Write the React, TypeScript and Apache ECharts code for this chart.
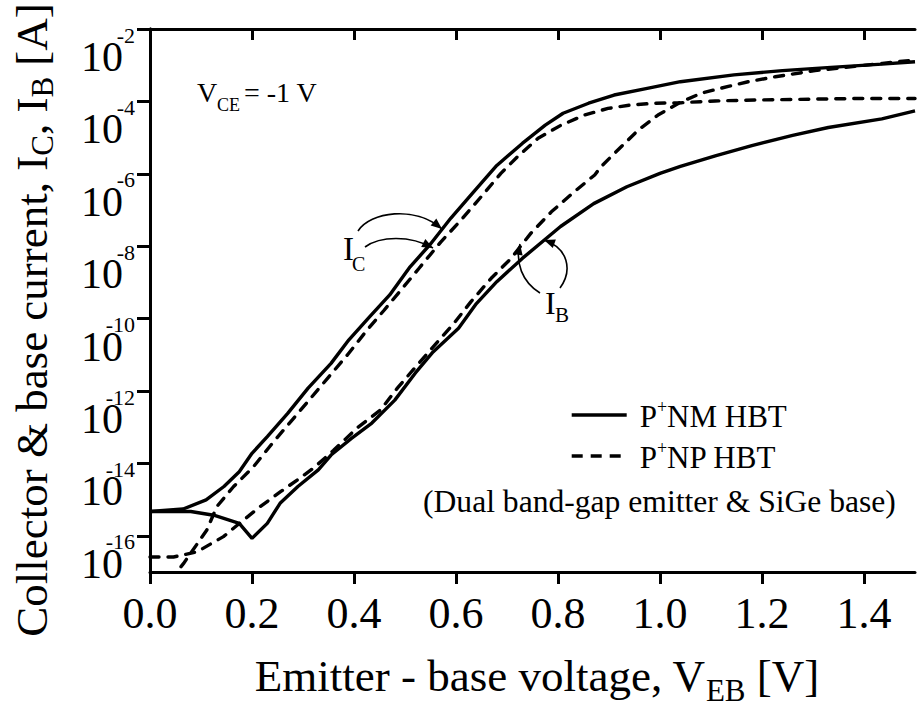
import React, { useEffect, useRef } from 'react';
import * as echarts from 'echarts';

const FONT = '"Liberation Serif", "Times New Roman", serif';

// P+NM HBT collector current (solid)
const icNmV = [0, 0.065, 0.11, 0.145, 0.175, 0.2, 0.23, 0.27, 0.31, 0.355, 0.39, 0.43, 0.47, 0.51, 0.55, 0.59, 0.635, 0.68, 0.73, 0.775, 0.81, 0.86, 0.91, 0.975, 1.04, 1.145, 1.24, 1.335, 1.435, 1.5];
const icNmI = [4.7e-16, 5.5e-16, 9.8e-16, 2.3e-15, 5.9e-15, 1.9e-14, 5.5e-14, 2.4e-13, 1.2e-12, 5.8e-12, 2.6e-11, 1.1e-10, 4.5e-10, 2.7e-9, 1.15e-8, 6.0e-8, 3.2e-7, 1.7e-6, 6.9e-6, 2.2e-5, 4.7e-5, 8.9e-5, 1.5e-4, 2.3e-4, 3.5e-4, 5.4e-4, 7.1e-4, 8.7e-4, 1.07e-3, 1.25e-3];

// P+NM HBT base current (solid)
const ibNmV = [0, 0.08, 0.125, 0.175, 0.2, 0.23, 0.255, 0.29, 0.33, 0.355, 0.395, 0.435, 0.48, 0.52, 0.555, 0.605, 0.64, 0.68, 0.73, 0.805, 0.87, 0.935, 1.0, 1.04, 1.11, 1.18, 1.26, 1.33, 1.435, 1.5];
const ibNmI = [4.7e-16, 4.7e-16, 3.7e-16, 2.2e-16, 8.5e-17, 2.2e-16, 7.9e-16, 2.3e-15, 6.6e-15, 1.7e-14, 4.9e-14, 1.3e-13, 5.6e-13, 3.1e-12, 1.2e-11, 5.4e-11, 2.6e-10, 1.05e-9, 4.6e-9, 3.5e-8, 1.5e-7, 4.4e-7, 1.03e-6, 1.6e-6, 3.2e-6, 6.0e-6, 1.15e-5, 1.9e-5, 3.3e-5, 5.5e-5];

// P+NP HBT collector current (dashed)
const icNpV = [0.04, 0.0525, 0.0655, 0.1115, 0.131, 0.164, 0.203, 0.2425, 0.279, 0.315, 0.351, 0.387, 0.426, 0.459, 0.495, 0.528, 0.57, 0.61, 0.649, 0.688, 0.721, 0.761, 0.806, 0.852, 0.898, 0.944, 0.99, 1.042, 1.108, 1.2, 1.291, 1.383, 1.5];
const icNpI = [5.6e-18, 1.0e-17, 1.7e-17, 1.45e-16, 6.4e-16, 2.3e-15, 8.1e-15, 4.0e-14, 1.6e-13, 6.3e-13, 2.5e-12, 9.9e-12, 4.9e-11, 1.7e-10, 6.9e-10, 2.5e-9, 1.3e-8, 5.3e-8, 2.3e-7, 1.03e-6, 3.0e-6, 9.6e-6, 2.2e-5, 4.2e-5, 6.4e-5, 8.0e-5, 8.9e-5, 9.2e-5, 1.03e-4, 1.1e-4, 1.15e-4, 1.2e-4, 1.2e-4];

// P+NP HBT base current (dashed)
const ibNpV = [0, 0.046, 0.092, 0.144, 0.183, 0.216, 0.256, 0.289, 0.321, 0.36, 0.406, 0.452, 0.485, 0.524, 0.564, 0.596, 0.629, 0.669, 0.708, 0.747, 0.787, 0.832, 0.872, 0.885, 0.911, 0.957, 0.996, 1.042, 1.082, 1.134, 1.173, 1.226, 1.304, 1.436, 1.5];
const ibNpI = [2.6e-17, 2.6e-17, 3.6e-17, 9.5e-17, 2.7e-16, 6.4e-16, 1.65e-15, 3.5e-15, 7.5e-15, 2.3e-14, 9.5e-14, 3.0e-13, 1.2e-12, 5.2e-12, 2.3e-11, 7.4e-11, 2.9e-10, 1.3e-9, 4.6e-9, 2.3e-8, 8.9e-8, 3.2e-7, 9.3e-7, 1.6e-6, 3.7e-6, 1.6e-5, 4.2e-5, 9.8e-5, 1.7e-4, 2.6e-4, 3.5e-4, 4.8e-4, 7.1e-4, 1.12e-3, 1.4e-3];

const xTicks = [0, 0.2, 0.4, 0.6, 0.8, 1.0, 1.2, 1.4];
const yTicks = [1e-16, 1e-14, 1e-12, 1e-10, 1e-8, 1e-6, 1e-4, 1e-2];
const legendNames = ['P+NM HBT', 'P+NP HBT'];
const xTitleParts = ['Emitter - base voltage, V', 'EB', ' [V]'];

const zip = (xs: number[], ys: number[]) => xs.map((x, i) => [x, ys[i]]);

const measure = (text: string, size: number) => {
  const ctx = document.createElement('canvas').getContext('2d');
  if (!ctx) return text.length * size * 0.45;
  ctx.font = `${size}px ${FONT}`;
  return ctx.measureText(text).width;
};

const arrowHead = (tx: number, ty: number, dx: number, dy: number) => {
  const len = Math.hypot(dx, dy);
  const ux = dx / len, uy = dy / len;
  const L = 11, H = 4.5;
  const bx = tx - ux * L, by = ty - uy * L;
  return {
    type: 'polygon',
    silent: true,
    shape: { points: [[tx, ty], [bx - uy * H, by + ux * H], [bx + uy * H, by - ux * H]] },
    style: { fill: '#000' },
  };
};

const curve = (x1: number, y1: number, c1x: number, c1y: number, c2x: number, c2y: number, x2: number, y2: number) => ({
  type: 'bezierCurve',
  silent: true,
  shape: { x1, y1, cpx1: c1x, cpy1: c1y, cpx2: c2x, cpy2: c2y, x2, y2 },
  style: { stroke: '#000', lineWidth: 1.6, fill: null },
});

const txt = (x: number, y: number, text: string, fontSize: number, align = 'left') => ({
  type: 'text',
  silent: true,
  x,
  y,
  style: { text, fontSize, fontFamily: FONT, fill: '#000', align, verticalAlign: 'middle' },
});

export default function App() {
  const ref = useRef<HTMLDivElement>(null);
  useEffect(() => {
    if (!ref.current) return;
    const chart = echarts.init(ref.current, null, { renderer: 'svg' });
    const axisLine = { show: true, lineStyle: { color: '#000', width: 3 } };
    const solid = { color: '#000', width: 3.4, type: 'solid' as const };
    const dashed = { color: '#000', width: 3.4, type: [9, 9] as any, cap: 'round' as const };

    // x-axis title laid out as three pieces (main, subscript, main)
    const mainSize = 45, subSize = 31;
    const w1 = measure(xTitleParts[0], mainSize);
    const w2 = measure(xTitleParts[1], subSize);
    const w3 = measure(xTitleParts[2], mainSize);
    const xl = 537 - (w1 + w2 + w3) / 2;

    const option: any = {
      animation: false,
      backgroundColor: '#fff',
      grid: { left: 150, right: 6, top: 29, bottom: 135, containLabel: false, outerBoundsMode: 'none' },
      xAxis: [
        {
          type: 'value', min: 0, max: 1.5, position: 'bottom',
          axisLine,
          axisTick: { show: true, customValues: xTicks, inside: false, length: 12, lineStyle: { color: '#000', width: 3 } },
          axisLabel: { customValues: xTicks, formatter: (v: number) => Number(v).toFixed(1), margin: 19, fontSize: 44, fontFamily: FONT, color: '#000' },
          splitLine: { show: false },
        },
        {
          type: 'value', min: 0, max: 1.5, position: 'top',
          axisLine,
          axisTick: { show: true, customValues: xTicks, inside: true, length: 11, lineStyle: { color: '#000', width: 3 } },
          axisLabel: { show: false },
          splitLine: { show: false },
        },
      ],
      yAxis: [
        {
          type: 'log', logBase: 10, min: 1e-17, max: 1e-2, position: 'left',
          axisLine,
          axisTick: { show: true, customValues: yTicks, inside: false, length: 13, lineStyle: { color: '#000', width: 3 } },
          axisLabel: {
            customValues: yTicks,
            formatter: (v: number) => `{e|${Math.round(Math.log10(v))}}\n{b|10}`,
            margin: 15,
            padding: [34, 0, 0, 0],
            color: '#000',
            fontFamily: FONT,
            rich: {
              e: { fontSize: 22, lineHeight: 22, fontFamily: FONT, color: '#000' },
              b: { fontSize: 42, lineHeight: 22, fontFamily: FONT, color: '#000', padding: [0, 12, 0, 0] },
            },
          },
          splitLine: { show: false },
        },
        {
          type: 'log', logBase: 10, min: 1e-17, max: 1e-2, position: 'right',
          axisLine,
          axisTick: { show: true, customValues: yTicks, inside: true, length: 11, lineStyle: { color: '#000', width: 3 } },
          axisLabel: { show: false },
          splitLine: { show: false },
        },
      ],
      legend: {
        show: true,
        data: [
          { name: legendNames[0], lineStyle: { width: 3.4, type: 'solid' } },
          { name: legendNames[1], lineStyle: { width: 3.4, type: [11, 8], cap: 'butt' } },
        ],
        orient: 'vertical',
        left: 570,
        top: 398,
        padding: 0,
        itemWidth: 55,
        itemHeight: 14,
        itemGap: 7,
        selectedMode: false,
        itemStyle: { opacity: 0, borderWidth: 0 },
        formatter: (n: string) => `{p|P}{s|+}{m|${n.slice(2)}}`,
        textStyle: {
          color: '#000',
          fontFamily: FONT,
          fontSize: 31,
          rich: {
            p: { fontSize: 31, fontFamily: FONT, color: '#000', lineHeight: 34, verticalAlign: 'bottom', padding: [0, 0, 0, 8] },
            s: { fontSize: 18, fontFamily: FONT, color: '#000', lineHeight: 18, verticalAlign: 'top' },
            m: { fontSize: 31, fontFamily: FONT, color: '#000', lineHeight: 34, verticalAlign: 'bottom' },
          },
        },
      },
      series: [
        { name: legendNames[0], type: 'line', data: zip(icNmV, icNmI), showSymbol: false, symbol: 'none', lineStyle: solid, itemStyle: { color: '#000' }, clip: true, silent: true },
        { name: legendNames[0], type: 'line', data: zip(ibNmV, ibNmI), showSymbol: false, symbol: 'none', lineStyle: solid, itemStyle: { color: '#000' }, clip: true, silent: true },
        { name: legendNames[1], type: 'line', data: zip(icNpV, icNpI), showSymbol: false, symbol: 'none', lineStyle: dashed, itemStyle: { color: '#000' }, clip: true, silent: true },
        { name: legendNames[1], type: 'line', data: zip(ibNpV, ibNpI), showSymbol: false, symbol: 'none', lineStyle: dashed, itemStyle: { color: '#000' }, clip: true, silent: true },
      ],
      graphic: [
        {
          type: 'text', silent: true, x: 31, y: 320, rotation: Math.PI / 2,
          style: {
            text: '{m|Collector & base current, I}{s|C}{m|, I}{s|B}{m| [A]}',
            fontFamily: FONT, fill: '#000', align: 'center', verticalAlign: 'middle',
            rich: {
              m: { fontSize: 45, lineHeight: 44, fontFamily: FONT, fill: '#000', verticalAlign: 'top' },
              s: { fontSize: 31, lineHeight: 26, fontFamily: FONT, fill: '#000', verticalAlign: 'top', padding: [18, 0, 0, 0] },
            },
          },
        },
        txt(xl, 676, xTitleParts[0], mainSize),
        txt(xl + w1, 690, xTitleParts[1], subSize),
        txt(xl + w1 + w2, 676, xTitleParts[2], mainSize),
        txt(197, 92.5, 'V', 28),
        txt(217, 105, 'CE', 18),
        txt(244, 92.5, '= -1 V', 28),
        txt(343, 249, 'I', 33),
        txt(352, 263.5, 'C', 20),
        txt(545, 302.5, 'I', 32),
        txt(555, 315, 'B', 21),
        txt(423, 501, '(Dual band-gap emitter & SiGe base)', 31.6),
        curve(358, 231, 370, 212, 415, 205, 442, 229),
        arrowHead(442, 229, 27, 22),
        curve(365, 247, 380, 236, 410, 235, 433, 248),
        arrowHead(433, 248, 23, 12),
        curve(540, 293, 522, 282, 515, 262, 520, 244),
        arrowHead(520, 244, 3, -18),
        curve(560, 288, 573, 270, 568, 248, 544, 240),
        arrowHead(544, 240, -22, -8),
      ],
    };
    chart.setOption(option);
    return () => chart.dispose();
  }, []);
  return <div ref={ref} style={{ position: 'fixed', left: 0, top: 0, width: 921, height: 707, background: '#fff' }} />;
}
